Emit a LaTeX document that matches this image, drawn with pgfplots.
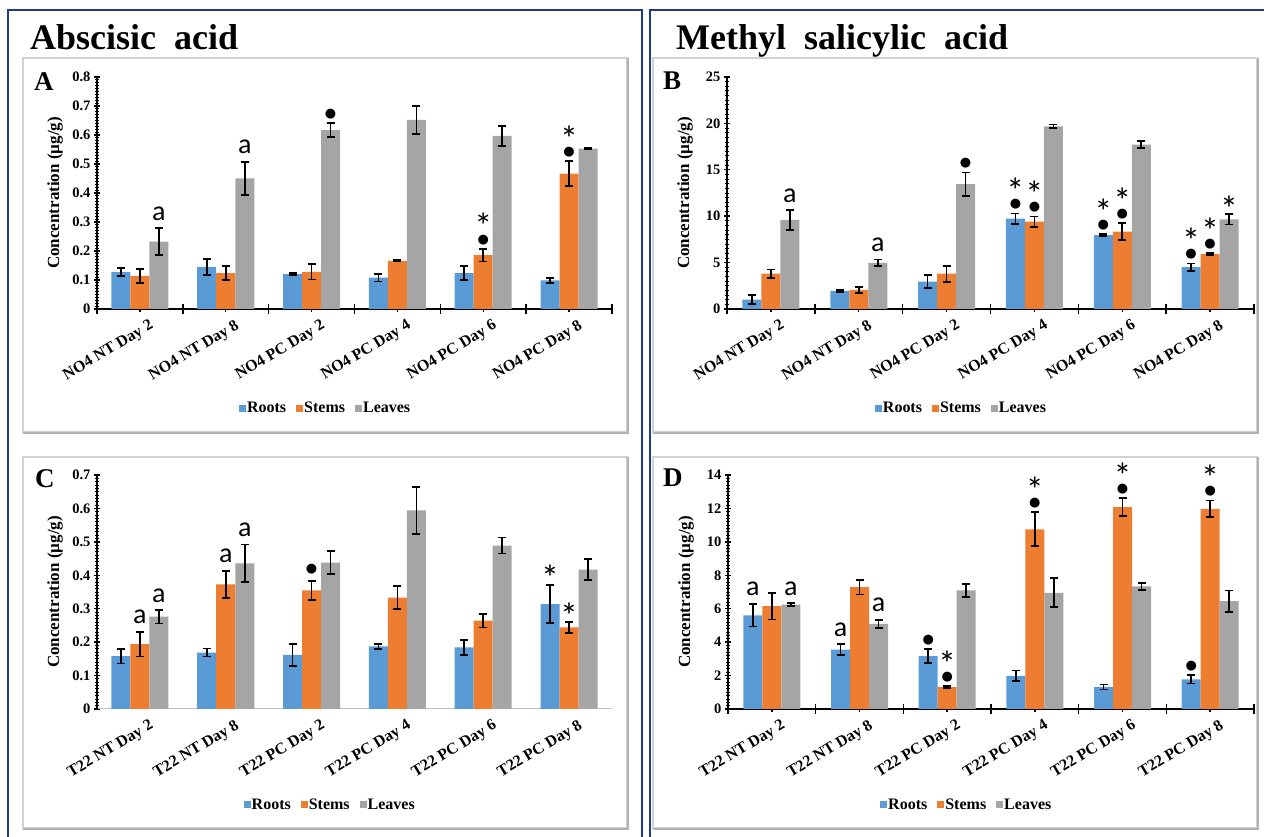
\documentclass[border=0pt]{standalone}
\usepackage{pgfplots}
\pgfplotsset{compat=1.18}
\usepackage{fontspec}
\setmainfont{Liberation Serif}
\newfontfamily\annfont{Carlito}
\newfontfamily\symfont{DejaVu Sans}
\definecolor{rootc}{RGB}{91,155,213}
\definecolor{stemc}{RGB}{237,125,49}
\definecolor{leafc}{RGB}{165,165,165}
\definecolor{frameblue}{RGB}{32,58,140}

\pgfplotsset{
  panel/.style={
    scale only axis,
    ybar=0pt, bar width=19pt,
    xmin=-0.5, xmax=5.5, ymin=0,
    clip=false,
    axis x line*=bottom, axis y line*=left,
    axis line style={-, line width=1.8pt, black},
    xtick={0,1,2,3,4,5},
    tick align=center,
    major tick length=6pt, minor tick length=3.5pt,
    minor y tick num=9,
    every tick/.style={black, line width=1.4pt},
    minor tick style={line width=0.9pt},
    x tick label style={rotate=31, anchor=north east, font=\bfseries\fontsize{16}{16}\selectfont, inner sep=0pt, yshift=-10pt, xshift=4pt},
    y tick label style={font=\bfseries\fontsize{14.5}{14.5}\selectfont},
    ylabel={Concentration (µg/g)},
    every axis y label/.style={at={([xshift=-42pt]axis description cs:0,0.5)}, rotate=90, anchor=center, font=\bfseries\fontsize{17}{17}\selectfont},
    legend columns=3,
    legend style={draw=none, fill=none, font=\bfseries\fontsize{16}{16}\selectfont, anchor=center, /tikz/every even column/.append style={column sep=9pt}, inner sep=0pt, nodes={inner sep=1pt}},
    every axis plot/.append style={legend image code/.code={\fill[####1] (0pt,-3.5pt) rectangle (7pt,3.5pt);}},
    error bars/y dir=both, error bars/y explicit,
    error bars/error bar style={line width=1.8pt, draw=black},
    error bars/error mark options={rotate=90, line width=1.8pt, draw=black, fill=black, mark size=4pt},
  },
  bticks/.style={extra x ticks={-0.5,0.5,1.5,2.5,3.5,4.5,5.5}, extra x tick labels={}, extra x tick style={major tick length=10pt}},
}

\newcommand\Aa[3]{\node[font=\annfont\fontsize{28}{28}\selectfont, anchor=base, inner sep=0pt] at ([xshift=#3pt, yshift=8pt]axis cs:#1,#2) {a};}
\newcommand\Dot[3]{\node[font=\symfont\fontsize{13}{13}\selectfont, anchor=center, inner sep=0pt] at ([xshift=#3pt, yshift=9pt]axis cs:#1,#2) {●};}
\newcommand\Star[4]{\node[font=\annfont\fontsize{36}{36}\selectfont, anchor=north, inner sep=0pt] at ([xshift=#3pt, yshift=#4pt]axis cs:#1,#2) {\raisebox{-0.3em}[0.34em][0pt]{*}};}
\newcommand\StarDot[3]{\Dot{#1}{#2}{#3}\Star{#1}{#2}{#3}{33}}

\begin{document}
\begin{tikzpicture}[x=1pt,y=1pt]
\path[use as bounding box] (0,0) rectangle (1264,837);
% frames
\draw[frameblue, line width=2pt] (8,-5) -- (8,826.5) -- (641.5,826.5) -- (641.5,-5);
\draw[frameblue, line width=2pt] (650,-5) -- (650,826.5) -- (1270,826.5);
% gray boxes
\foreach \x/\y/\X/\Y in {23/405/627/779, 653/405/1257/779, 23/9/627/380, 653/9/1257/380} {
  \draw[black!18, line width=1.2pt] (\x,\y) rectangle (\X,\Y);
  \draw[black!30, line width=1.5pt] (\X+1,\Y) -- (\X+1,\y-1) -- (\x,\y-1);
}
% titles
\node[anchor=base west, inner sep=0pt, font=\bfseries\fontsize{36}{36}\selectfont] at (30,787) {Abscisic\ \ acid};
\node[anchor=base west, inner sep=0pt, font=\bfseries\fontsize{36}{36}\selectfont] at (676,787) {Methyl\ \ salicylic\ \ acid};
\node[anchor=base west, inner sep=0pt, font=\bfseries\fontsize{27}{27}\selectfont] at (34,746) {A};
\node[anchor=base west, inner sep=0pt, font=\bfseries\fontsize{27}{27}\selectfont] at (663,747) {B};
\node[anchor=base west, inner sep=0pt, font=\bfseries\fontsize{27}{27}\selectfont] at (35,349) {C};
\node[anchor=base west, inner sep=0pt, font=\bfseries\fontsize{27}{27}\selectfont] at (663,350) {D};

% ---------------- Panel A
\begin{axis}[panel, bticks, at={(97pt,528pt)}, anchor=south west, width=515pt, height=232pt,
  ymax=0.8, ytick={0,0.1,0.2,0.3,0.4,0.5,0.6,0.7,0.8}, yticklabels={0,0.1,0.2,0.3,0.4,0.5,0.6,0.7,0.8},
  xticklabels={NO4 NT Day 2,NO4 NT Day 8,NO4 PC Day 2,NO4 PC Day 4,NO4 PC Day 6,NO4 PC Day 8},
  legend style={at={(axis description cs:0.443,-0.427)}}]
\addplot[fill=rootc, draw=none] coordinates {(0,0.127) +- (0,0.013) (1,0.145) +- (0,0.028) (2,0.12) +- (0,0.004) (3,0.108) +- (0,0.013) (4,0.124) +- (0,0.024) (5,0.099) +- (0,0.008)};
\addplot[fill=stemc, draw=none] coordinates {(0,0.114) +- (0,0.025) (1,0.124) +- (0,0.024) (2,0.128) +- (0,0.026) (3,0.166) +- (0,0.002) (4,0.186) +- (0,0.022) (5,0.467) +- (0,0.043)};
\addplot[fill=leafc, draw=none] coordinates {(0,0.232) +- (0,0.046) (1,0.45) +- (0,0.058) (2,0.617) +- (0,0.023) (3,0.652) +- (0,0.048) (4,0.597) +- (0,0.035) (5,0.553) +- (0,0.002)};
\legend{Roots,Stems,Leaves}
\Aa{0}{0.278}{19}
\Aa{1}{0.508}{19}
\Dot{2}{0.64}{19}
\StarDot{4}{0.208}{0}
\StarDot{5}{0.51}{0}
\end{axis}

% ---------------- Panel B
\begin{axis}[panel, bticks, at={(727pt,528pt)}, anchor=south west, width=527pt, height=232pt,
  ymax=25, ytick={0,5,10,15,20,25}, yticklabels={0,5,10,15,20,25},
  xticklabels={NO4 NT Day 2,NO4 NT Day 8,NO4 PC Day 2,NO4 PC Day 4,NO4 PC Day 6,NO4 PC Day 8},
  legend style={at={(axis description cs:0.444,-0.427)}}]
\addplot[fill=rootc, draw=none] coordinates {(0,1.0) +- (0,0.5) (1,1.95) +- (0,0.08) (2,2.95) +- (0,0.7) (3,9.75) +- (0,0.55) (4,7.95) +- (0,0.1) (5,4.5) +- (0,0.4)};
\addplot[fill=stemc, draw=none] coordinates {(0,3.8) +- (0,0.45) (1,2.05) +- (0,0.3) (2,3.8) +- (0,0.85) (3,9.42) +- (0,0.55) (4,8.35) +- (0,0.9) (5,5.9) +- (0,0.1)};
\addplot[fill=leafc, draw=none] coordinates {(0,9.6) +- (0,1.05) (1,4.98) +- (0,0.35) (2,13.45) +- (0,1.25) (3,19.67) +- (0,0.2) (4,17.72) +- (0,0.4) (5,9.65) +- (0,0.55)};
\legend{Roots,Stems,Leaves}
\Aa{0}{10.65}{19}
\Aa{1}{5.33}{19}
\Dot{2}{14.7}{19}
\StarDot{3}{10.3}{-19}
\StarDot{3}{9.97}{0}
\StarDot{4}{8.05}{-19}
\StarDot{4}{9.25}{0}
\StarDot{5}{4.9}{-19}
\StarDot{5}{6.0}{0}
\Star{5}{10.2}{19}{16.5}
\end{axis}

% ---------------- Panel C
\begin{axis}[panel, at={(97pt,128pt)}, anchor=south west, width=515pt, height=234pt,
  ymax=0.7, ytick={0,0.1,0.2,0.3,0.4,0.5,0.6,0.7}, yticklabels={0,0.1,0.2,0.3,0.4,0.5,0.6,0.7},
  x axis line style={draw=black!25, line width=1pt}, x tick style={draw=none},
  xticklabels={T22 NT Day 2,T22 NT Day 8,T22 PC Day 2,T22 PC Day 4,T22 PC Day 6,T22 PC Day 8},
  legend style={at={(axis description cs:0.452,-0.41)}}]
\addplot[fill=rootc, draw=none] coordinates {(0,0.158) +- (0,0.022) (1,0.169) +- (0,0.012) (2,0.162) +- (0,0.033) (3,0.187) +- (0,0.008) (4,0.184) +- (0,0.023) (5,0.314) +- (0,0.057)};
\addplot[fill=stemc, draw=none] coordinates {(0,0.194) +- (0,0.037) (1,0.373) +- (0,0.04) (2,0.355) +- (0,0.028) (3,0.333) +- (0,0.034) (4,0.264) +- (0,0.02) (5,0.244) +- (0,0.017)};
\addplot[fill=leafc, draw=none] coordinates {(0,0.276) +- (0,0.02) (1,0.436) +- (0,0.056) (2,0.438) +- (0,0.035) (3,0.594) +- (0,0.07) (4,0.489) +- (0,0.024) (5,0.417) +- (0,0.031)};
\legend{Roots,Stems,Leaves}
\Aa{0}{0.231}{0}
\Aa{0}{0.296}{19}
\Aa{1}{0.413}{0}
\Aa{1}{0.492}{19}
\Dot{2}{0.39}{0}
\Star{5}{0.371}{-19}{18}
\Star{5}{0.261}{0}{16.5}
\end{axis}

% ---------------- Panel D
\begin{axis}[panel, bticks, at={(728pt,128pt)}, anchor=south west, width=526pt, height=234pt,
  ymax=14, ytick={0,2,4,6,8,10,12,14}, yticklabels={0,2,4,6,8,10,12,14},
  xticklabels={T22 NT Day 2,T22 NT Day 8,T22 PC Day 2,T22 PC Day 4,T22 PC Day 6,T22 PC Day 8},
  legend style={at={(axis description cs:0.453,-0.41)}}]
\addplot[fill=rootc, draw=none] coordinates {(0,5.6) +- (0,0.66) (1,3.55) +- (0,0.32) (2,3.17) +- (0,0.43) (3,1.98) +- (0,0.32) (4,1.32) +- (0,0.15) (5,1.77) +- (0,0.25)};
\addplot[fill=stemc, draw=none] coordinates {(0,6.15) +- (0,0.8) (1,7.29) +- (0,0.44) (2,1.31) +- (0,0.06) (3,10.75) +- (0,1.02) (4,12.08) +- (0,0.53) (5,11.97) +- (0,0.5)};
\addplot[fill=leafc, draw=none] coordinates {(0,6.24) +- (0,0.08) (1,5.1) +- (0,0.24) (2,7.1) +- (0,0.38) (3,6.95) +- (0,0.87) (4,7.33) +- (0,0.2) (5,6.45) +- (0,0.64)};
\legend{Roots,Stems,Leaves}
\Aa{0}{6.3}{-19}
\Aa{0}{6.33}{19}
\Aa{1}{3.88}{-19}
\Aa{1}{5.35}{19}
\Dot{2}{3.6}{-19}
\StarDot{2}{1.39}{0}
\StarDot{3}{11.77}{0}
\StarDot{4}{12.61}{0}
\Dot{5}{2.02}{-19}
\StarDot{5}{12.47}{0}
\end{axis}
\end{tikzpicture}
\end{document}
